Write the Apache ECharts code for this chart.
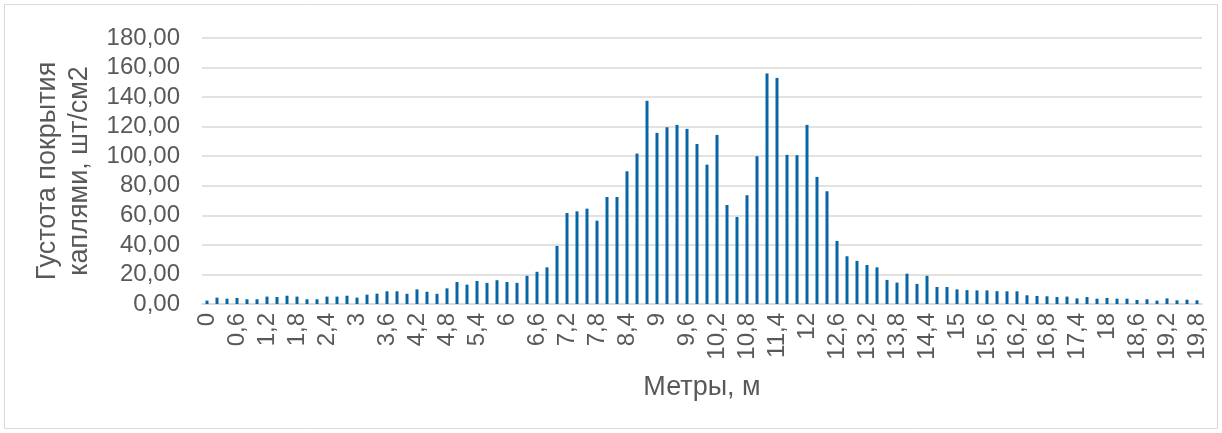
<!DOCTYPE html>
<html>
<head>
<meta charset="utf-8">
<script src="https://cdn.jsdelivr.net/npm/echarts@6/dist/echarts.min.js"></script>
<style>
  html, body { margin: 0; padding: 0; background: #fff; }
  #chart { width: 1222px; height: 433px; }
</style>
</head>
<body>
<div id="chart"></div>
<script>
// метры, шаг 0,2
var categories = [
    '0', '0,2', '0,4', '0,6', '0,8', '1', '1,2', '1,4', '1,6', '1,8',
    '2', '2,2', '2,4', '2,6', '2,8', '3', '3,2', '3,4', '3,6', '3,8',
    '4', '4,2', '4,4', '4,6', '4,8', '5', '5,2', '5,4', '5,6', '5,8',
    '6', '6,2', '6,4', '6,6', '6,8', '7', '7,2', '7,4', '7,6', '7,8',
    '8', '8,2', '8,4', '8,6', '8,8', '9', '9,2', '9,4', '9,6', '9,8',
    '10', '10,2', '10,4', '10,6', '10,8', '11', '11,2', '11,4', '11,6', '11,8',
    '12', '12,2', '12,4', '12,6', '12,8', '13', '13,2', '13,4', '13,6', '13,8',
    '14', '14,2', '14,4', '14,6', '14,8', '15', '15,2', '15,4', '15,6', '15,8',
    '16', '16,2', '16,4', '16,6', '16,8', '17', '17,2', '17,4', '17,6', '17,8',
    '18', '18,2', '18,4', '18,6', '18,8', '19', '19,2', '19,4', '19,6', '19,8'
];

// густота покрытия, шт/см2
var density = [
    2.3, 4.3, 3.6, 4.1, 3.2, 3.2, 5.0, 4.7, 5.6, 5.0,
    3.2, 3.2, 5.0, 5.0, 5.6, 4.3, 6.3, 7.0, 8.6, 8.6,
    6.9, 9.9, 8.3, 6.9, 10.6, 14.9, 13.1, 15.6, 14.3, 16.1,
    14.9, 14.3, 19.1, 21.8, 24.8, 39.3, 61.6, 62.7, 64.5, 56.4,
    72.4, 72.4, 89.8, 101.8, 137.5, 115.8, 119.6, 121.2, 118.5, 108.3,
    94.3, 114.4, 67.0, 58.9, 73.6, 100.0, 156.0, 153.0, 100.9, 100.7,
    121.2, 86.0, 76.3, 42.7, 32.3, 29.2, 26.4, 24.8, 16.3, 14.5,
    20.5, 13.6, 19.1, 11.5, 11.5, 9.9, 9.4, 9.2, 9.2, 8.7,
    8.6, 8.6, 5.9, 5.4, 5.2, 4.7, 5.0, 3.8, 4.7, 3.6,
    4.1, 3.6, 3.6, 2.7, 3.2, 2.3, 3.8, 2.5, 2.9, 2.5
];

var yMin = 0, yMax = 180, yStep = 20;

var chart = echarts.init(document.getElementById('chart'), null, { renderer: 'canvas' });

var option = {
    backgroundColor: '#fff',
    animation: false,
    textStyle: { fontFamily: 'Liberation Sans, Arial, sans-serif' },
    // рамка области диаграммы
    graphic: [{
        type: 'rect',
        shape: { x: 4.5, y: 4.5, width: 1213, height: 424 },
        style: { fill: 'none', stroke: '#d9d9d9', lineWidth: 1 },
        silent: true
    }],
    grid: { left: 202, right: 20, top: 38, bottom: 129 },
    xAxis: {
        type: 'category',
        data: categories,
        name: 'Метры, м',
        nameLocation: 'middle',
        nameGap: 70,
        nameTextStyle: { color: '#595959', fontSize: 27 },
        axisLine: { show: true, lineStyle: { color: '#d9d9d9', width: 1.5 } },
        axisTick: { show: false },
        axisLabel: {
            interval: 2,
            rotate: 90,
            color: '#595959',
            fontSize: 24,
            margin: 9
        }
    },
    yAxis: {
        type: 'value',
        min: yMin,
        max: yMax,
        interval: yStep,
        name: 'Густота покрытия\nкаплями, шт/см2',
        nameLocation: 'middle',
        nameRotate: 90,
        nameGap: 97,
        nameTextStyle: { color: '#595959', fontSize: 27, lineHeight: 32 },
        axisLine: { show: false },
        axisTick: { show: false },
        splitLine: { lineStyle: { color: '#d9d9d9', width: 1.5 } },
        axisLabel: {
            color: '#595959',
            fontSize: 24,
            margin: 22,
            formatter: function (v) { return v.toFixed(2).replace('.', ','); }
        }
    },
    series: [{
        type: 'bar',
        data: density,
        barWidth: 3,
        itemStyle: { color: '#0865a6' }
    }]
};

chart.setOption(option);
</script>
</body>
</html>
